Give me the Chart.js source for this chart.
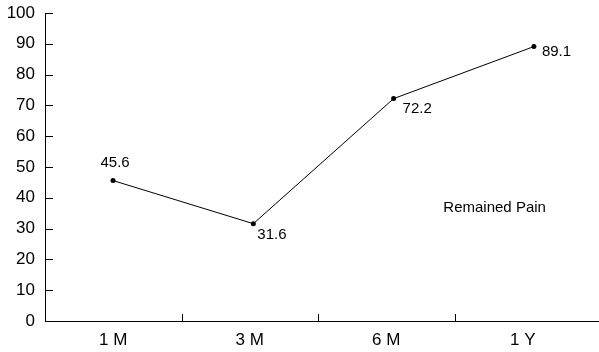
<!DOCTYPE html>
<html>
<head>
<meta charset="utf-8">
<script src="https://cdn.jsdelivr.net/npm/chart.js@4/dist/chart.umd.min.js"></script>
<style>
  html, body { margin: 0; padding: 0; background: #fff; }
  #wrap { width: 599px; height: 352px; position: relative; }
</style>
</head>
<body>
<div id="wrap"><canvas id="painChart"></canvas></div>
<script>
const categories = ["1 M", "3 M", "6 M", "1 Y"];
const painValues = [45.6, 31.6, 72.2, 89.1];
const seriesName = "Remained Pain";
const yTicks = [0, 10, 20, 30, 40, 50, 60, 70, 80, 90, 100];

const FONT = "'Liberation Sans', Arial, sans-serif";

// label offsets per point (style only)
const labelOffsets = [
  { dx: 2, dy: -14, align: "center" },
  { dx: 4, dy: 15, align: "left" },
  { dx: 9, dy: 14, align: "left" },
  { dx: 8, dy: 9, align: "left" },
];

const axisDecor = {
  id: "axisDecor",
  afterDraw(chart) {
    const ctx = chart.ctx;
    const area = chart.chartArea;
    const xs = chart.scales.x;
    const ys = chart.scales.y;
    ctx.save();
    ctx.strokeStyle = "#000";
    ctx.lineWidth = 1;
    ctx.beginPath();
    // inward y ticks
    yTicks.forEach((t) => {
      const py = Math.round(ys.getPixelForValue(t)) + 0.5;
      ctx.moveTo(area.left, py);
      ctx.lineTo(area.left + 8, py);
    });
    // inward x ticks between categories
    for (let i = 1; i < categories.length; i++) {
      const px = Math.round(xs.getPixelForValue(i - 0.5)) + 0.5;
      ctx.moveTo(px, area.bottom);
      ctx.lineTo(px, area.bottom - 7);
    }
    // x axis runs to the right edge
    const by = Math.round(area.bottom) + 0.5;
    ctx.moveTo(area.left, by);
    ctx.lineTo(chart.width, by);
    ctx.stroke();

    // value labels
    const meta = chart.getDatasetMeta(0);
    ctx.fillStyle = "#000";
    ctx.font = "15px " + FONT;
    ctx.textBaseline = "alphabetic";
    meta.data.forEach((pt, i) => {
      const o = labelOffsets[i];
      ctx.textAlign = o.align;
      ctx.fillText(painValues[i].toFixed(1), pt.x + o.dx, pt.y + o.dy);
    });

    // series name inside the plot
    const xp = chart.scales.xp;
    ctx.textAlign = "center";
    ctx.fillText(seriesName, xp.getPixelForValue(2.72), ys.getPixelForValue(35.5));
    ctx.restore();
  },
};

new Chart(document.getElementById("painChart"), {
  type: "line",
  data: {
    labels: categories,
    datasets: [
      {
        label: seriesName,
        data: painValues.map((v, i) => ({ x: i, y: v })),
        xAxisID: "xp",
        borderColor: "#000",
        borderWidth: 1,
        pointRadius: 2.5,
        pointBackgroundColor: "#000",
        pointBorderColor: "#000",
        pointBorderWidth: 0,
        tension: 0,
      },
    ],
  },
  options: {
    responsive: true,
    maintainAspectRatio: false,
    animation: false,
    layout: { padding: { top: 13, right: 8, left: 0, bottom: 0 } },
    plugins: {
      legend: { display: false },
      tooltip: { enabled: false },
    },
    scales: {
      x: {
        type: "category",
        offset: true,
        grid: { display: false, drawTicks: false, offset: true },
        border: { display: false },
        ticks: { color: "#000", font: { family: FONT, size: 17 }, padding: 9, maxRotation: 0 },
        afterFit(scale) {
          scale.height = 31;
          scale.paddingLeft = 0;
          scale.paddingRight = 0;
        },
      },
      xp: {
        type: "linear",
        display: false,
        min: -0.485,
        max: 3.407,
      },
      y: {
        min: 0,
        max: 100,
        afterBuildTicks(scale) { scale.ticks = yTicks.map((v) => ({ value: v })); },
        grid: { display: false, drawTicks: false },
        border: { display: true, color: "#000", width: 1 },
        ticks: { color: "#000", font: { family: FONT, size: 17 }, padding: 10 },
        afterFit(scale) {
          scale.width = 45;
          scale.paddingTop = 0;
          scale.paddingBottom = 0;
        },
      },
    },
  },
  plugins: [axisDecor],
});
</script>
</body>
</html>
